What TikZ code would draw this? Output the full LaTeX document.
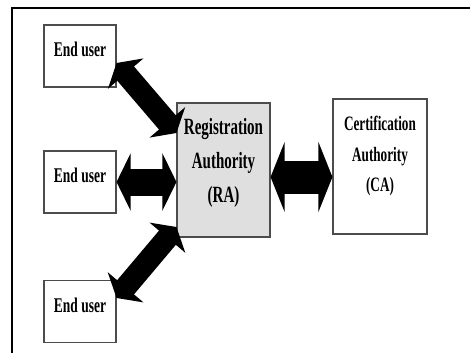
\documentclass[tikz,border=0pt]{standalone}
\usepackage{fontspec}
\setmainfont{Liberation Serif}
\usepackage{graphicx}
\usetikzlibrary{arrows.meta}

\newcommand{\tallbox}[1]{\scalebox{1}[1.55]{#1}}

\tikzset{
  box/.style={draw=black!70, line width=1.1pt, inner sep=0pt},
  userbox/.style={box, minimum width=72pt, minimum height=62pt},
  authbox/.style={box, minimum width=94pt, minimum height=135pt},
  boxtext/.style={inner sep=0pt, font=\bfseries\fontsize{13.5}{16}\selectfont},
  fatarrow/.style={draw=black, line width=#1,
    {Triangle[length=14pt,width=0pt 2.1]}-{Triangle[length=14pt,width=0pt 2.1]}}
}

\begin{document}
\begin{tikzpicture}[x=1pt,y=-1pt]
\useasboundingbox (0,0) rectangle (470,353);
\draw[line width=2pt] (12,353) -- (12,8) -- (470,8);

\node[userbox] (user1) at (80,56) {};
\node[userbox] (user2) at (80,182) {};
\node[userbox] (user3) at (80,311.5) {};
\node[authbox, minimum width=93pt, minimum height=134pt, fill=gray!25] (ra) at (223.5,170) {};
\node[authbox] (ca) at (380,166.5) {};

\node[boxtext] (user1 text) at (80,49.5) {\tallbox{End user}};
\node[boxtext] (user2 text) at (80,175.5) {\tallbox{End user}};
\node[boxtext] (user3 text) at (80,305) {\tallbox{End user}};
\node[boxtext, font=\bfseries\fontsize{15}{21.9}\selectfont] (ra text) at (223.5,162)
  {\tallbox{\begin{tabular}{@{}c@{}}Registration\\Authority\\(RA)\end{tabular}}};
\node[boxtext, font=\bfseries\fontsize{13.2}{19.4}\selectfont] (ca text) at (380,155)
  {\tallbox{\begin{tabular}{@{}c@{}}Certification\\Authority\\(CA)\end{tabular}}};

\draw[fatarrow=22pt] ([yshift=-7pt]user1.east) -- ([yshift=37pt]ra.west);
\draw[fatarrow=27pt] (user2.east) -- (user2.east -| ra.west);
\draw[fatarrow=22pt] ([yshift=13.5pt]user3.east) -- ([yshift=-57pt]ra.west);
\draw[fatarrow=33pt] ([yshift=-7pt]ra.east) -- ([yshift=-7pt]ra.east -| ca.west);
\end{tikzpicture}
\end{document}
